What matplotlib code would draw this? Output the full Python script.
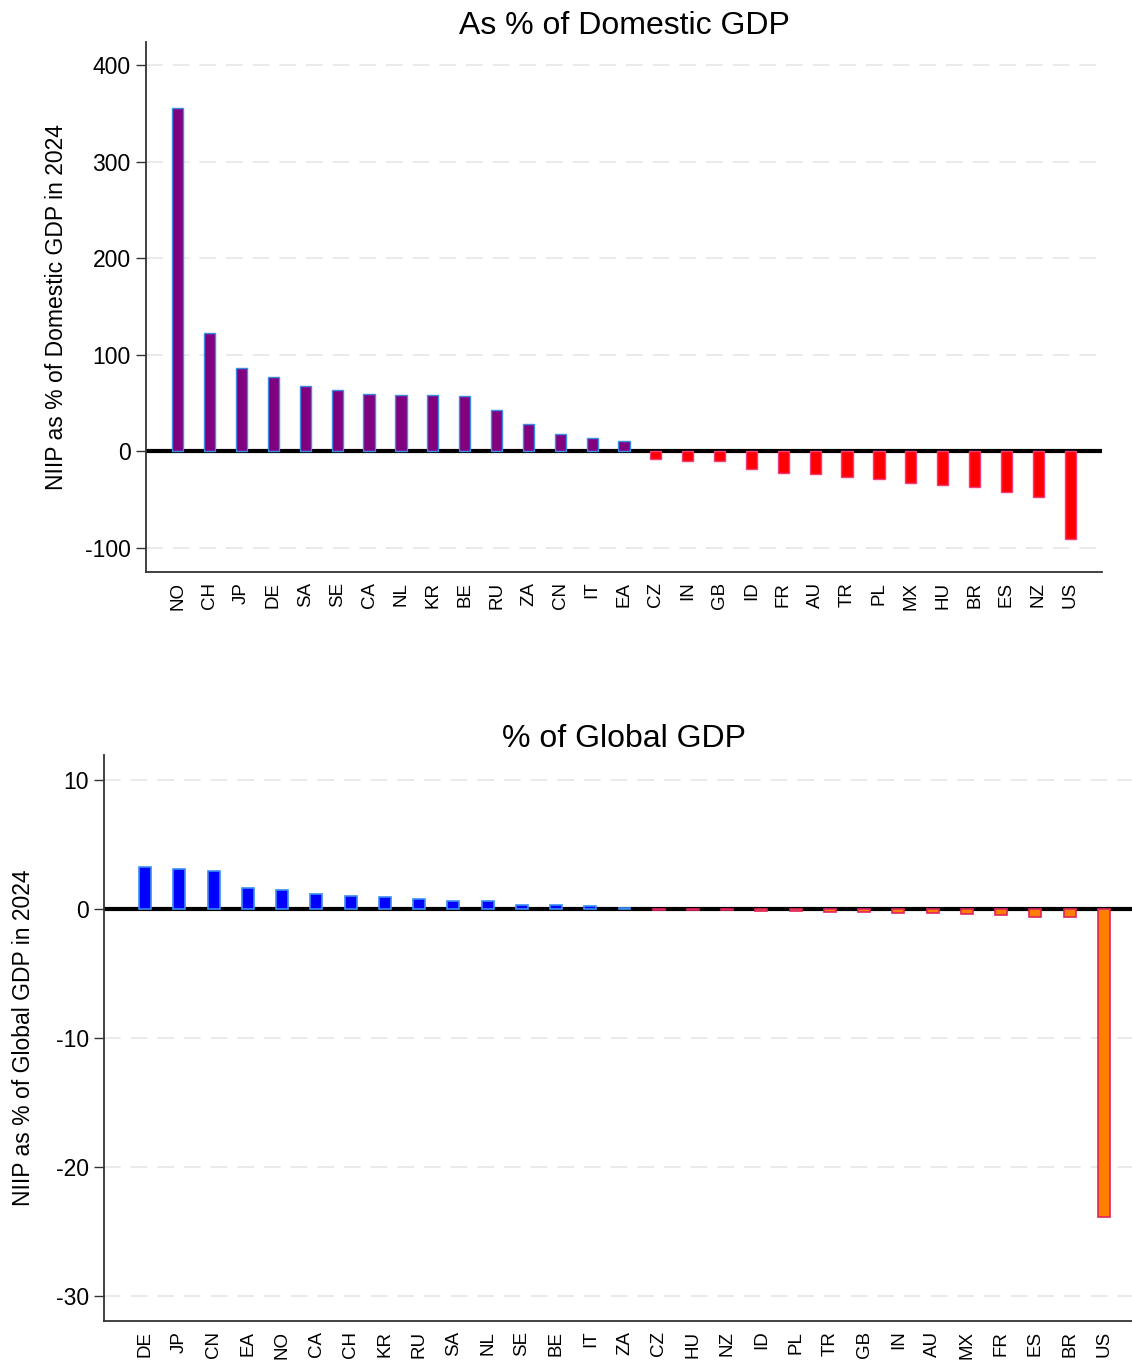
import numpy as np
import matplotlib
matplotlib.use("Agg")
import matplotlib.pyplot as plt

plt.rcParams['font.family'] = ['Liberation Sans', 'DejaVu Sans']
plt.rcParams['axes.unicode_minus'] = False

# NIIP as % of domestic GDP, 2024
dom_codes = ["NO", "CH", "JP", "DE", "SA", "SE", "CA", "NL", "KR", "BE", "RU", "ZA",
             "CN", "IT", "EA", "CZ", "IN", "GB", "ID", "FR", "AU", "TR", "PL", "MX",
             "HU", "BR", "ES", "NZ", "US"]
dom_values = [356, 123, 86.5, 77.5, 67.3, 64, 59.5, 58.8, 58.8, 57.7, 43.3, 27.8,
              17.5, 14, 10.6, -7.5, -10, -10.3, -18, -22.4, -24, -26.5, -29, -32.7,
              -35, -36.8, -42.3, -47, -91]

# NIIP as % of global GDP, 2024
glob_codes = ["DE", "JP", "CN", "EA", "NO", "CA", "CH", "KR", "RU", "SA", "NL", "SE",
              "BE", "IT", "ZA", "CZ", "HU", "NZ", "ID", "PL", "TR", "GB", "IN", "AU",
              "MX", "FR", "ES", "BR", "US"]
glob_values = [3.2, 3.05, 2.9, 1.6, 1.47, 1.13, 0.98, 0.9, 0.77, 0.59, 0.58, 0.31,
               0.31, 0.23, 0.05, -0.1, -0.1, -0.12, -0.2, -0.2, -0.25, -0.28, -0.3, -0.33,
               -0.37, -0.5, -0.6, -0.65, -23.85]

W, H = 1132, 1362
fig = plt.figure(figsize=(W / 100, H / 100), dpi=100)

def px_axes(left, top, right, bottom):
    return fig.add_axes([left / W, 1 - bottom / H, (right - left) / W, (bottom - top) / H])

def style(ax, ylabel, title, yticks, lpad):
    for s in ["top", "right"]:
        ax.spines[s].set_visible(False)
    for s in ["left", "bottom"]:
        ax.spines[s].set_color("#333333")
        ax.spines[s].set_linewidth(1.3)
    ax.set_yticks(yticks)
    ax.tick_params(axis="y", length=7, width=1.0, color="#333333", labelsize=16.5, pad=4)
    ax.tick_params(axis="x", length=0, labelsize=13.5, pad=7, rotation=90)
    for t in yticks:
        if t != 0:
            ax.axhline(t, color="#e6e6e6", lw=1.2, dashes=(10, 6), zorder=0)
    ax.axhline(0, color="black", lw=3, zorder=2)
    ax.set_ylabel(ylabel, fontsize=16.5, labelpad=lpad)
    ax.set_title(title, fontsize=23, pad=6)

# top panel
ax1 = px_axes(146, 42, 1102, 572)
x1 = np.arange(len(dom_codes))
fill1 = ["#800080" if v >= 0 else "#ff0000" for v in dom_values]
edge1 = ["#3a8ee6" if v >= 0 else "#f03c78" for v in dom_values]
ax1.bar(x1, dom_values, width=0.35, color=fill1, edgecolor=edge1, linewidth=1.0, zorder=3)
ax1.set_xticks(x1)
ax1.set_xticklabels(dom_codes)
ax1.set_xlim(-1, 29)
ax1.set_ylim(-125, 424)
style(ax1, "NIIP as % of Domestic GDP in 2024", "As % of Domestic GDP",
      [-100, 0, 100, 200, 300, 400], 12)

# bottom panel
ax2 = px_axes(104, 755, 1145, 1321)
x2 = np.arange(len(glob_codes))
fill2 = ["#0000ff" if v >= 0 else "#ff8000" for v in glob_values]
edge2 = ["#3a8ef6" if v >= 0 else "#e0245e" for v in glob_values]
ax2.bar(x2, glob_values, width=0.35, color=fill2, edgecolor=edge2, linewidth=1.2, zorder=3)
ax2.set_xticks(x2)
ax2.set_xticklabels(glob_codes)
ax2.set_xlim(-1.2, 29.2)
ax2.set_ylim(-31.9, 11.9)
style(ax2, "NIIP as % of Global GDP in 2024", "% of Global GDP",
      [-30, -20, -10, 0, 10], 15)

fig.savefig("out.png", dpi=100)
